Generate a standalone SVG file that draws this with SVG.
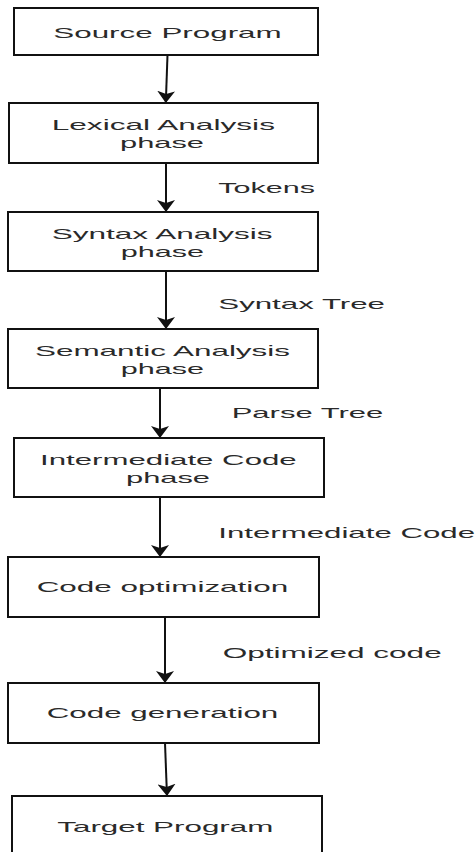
<svg xmlns="http://www.w3.org/2000/svg" width="476" height="852" viewBox="0 0 476 852">
<style>
.box{fill:#fff;stroke:#111;stroke-width:2}
.t{font-family:"Liberation Sans",Arial,sans-serif;font-size:15px;fill:#2a2a2a}
.c{fill:none;stroke:#111;stroke-width:2}
</style>
<defs>
<marker id="ah" markerUnits="userSpaceOnUse" viewBox="0 0 12 18" refX="12" refY="9" markerWidth="12" markerHeight="18" orient="auto">
<path d="M0,0 L12,9 L0,18 L3,9 z" fill="#111"/>
</marker>
</defs>
<rect width="476" height="852" fill="#fff"/>
<g id="connectors">
<path class="c" d="M167.5,55 L165.8,103" marker-end="url(#ah)"/>
<path class="c" d="M166,163 L166,212" marker-end="url(#ah)"/>
<path class="c" d="M166,271 L166,329" marker-end="url(#ah)"/>
<path class="c" d="M160,388 L160,438" marker-end="url(#ah)"/>
<path class="c" d="M160,497 L160,557" marker-end="url(#ah)"/>
<path class="c" d="M165,617 L165,683" marker-end="url(#ah)"/>
<path class="c" d="M165,743 L167,796" marker-end="url(#ah)"/>
<text class="t" x="218.3" y="192.7" textLength="96.7" lengthAdjust="spacingAndGlyphs">Tokens</text>
<text class="t" x="218.3" y="309.3" textLength="166.7" lengthAdjust="spacingAndGlyphs">Syntax Tree</text>
<text class="t" x="231.7" y="418.3" textLength="151.6" lengthAdjust="spacingAndGlyphs">Parse Tree</text>
<text class="t" x="218.3" y="538.3" textLength="256.7" lengthAdjust="spacingAndGlyphs">Intermediate Code</text>
<text class="t" x="222.7" y="658.3" textLength="219" lengthAdjust="spacingAndGlyphs">Optimized code</text>
</g>
<g id="source">
<rect class="box" x="14" y="8" width="304" height="47"/>
<text class="t" x="53.3" y="38.3" textLength="228.4" lengthAdjust="spacingAndGlyphs">Source Program</text>
</g>
<g id="lexical">
<rect class="box" x="9" y="103" width="309" height="60"/>
<text class="t" x="51.7" y="130" textLength="223.3" lengthAdjust="spacingAndGlyphs">Lexical Analysis</text>
<text class="t" x="120" y="148" textLength="84" lengthAdjust="spacingAndGlyphs">phase</text>
</g>
<g id="syntax">
<rect class="box" x="8" y="212" width="310" height="59"/>
<text class="t" x="51.7" y="239" textLength="221" lengthAdjust="spacingAndGlyphs">Syntax Analysis</text>
<text class="t" x="120.7" y="257" textLength="83.3" lengthAdjust="spacingAndGlyphs">phase</text>
</g>
<g id="semantic">
<rect class="box" x="8" y="329" width="310" height="59"/>
<text class="t" x="35" y="356" textLength="255" lengthAdjust="spacingAndGlyphs">Semantic Analysis</text>
<text class="t" x="120.7" y="374" textLength="83.3" lengthAdjust="spacingAndGlyphs">phase</text>
</g>
<g id="intermediate">
<rect class="box" x="14" y="438" width="310" height="59"/>
<text class="t" x="40" y="464.5" textLength="256.7" lengthAdjust="spacingAndGlyphs">Intermediate Code</text>
<text class="t" x="126" y="482.5" textLength="84" lengthAdjust="spacingAndGlyphs">phase</text>
</g>
<g id="optimization">
<rect class="box" x="8" y="557" width="311" height="60"/>
<text class="t" x="36.7" y="591.7" textLength="251.6" lengthAdjust="spacingAndGlyphs">Code optimization</text>
</g>
<g id="generation">
<rect class="box" x="8" y="683" width="311" height="60"/>
<text class="t" x="46.7" y="718.3" textLength="231.6" lengthAdjust="spacingAndGlyphs">Code generation</text>
</g>
<g id="target">
<rect class="box" x="12" y="796" width="310" height="70"/>
<text class="t" x="57.3" y="832.3" textLength="216" lengthAdjust="spacingAndGlyphs">Target Program</text>
</g>
</svg>
